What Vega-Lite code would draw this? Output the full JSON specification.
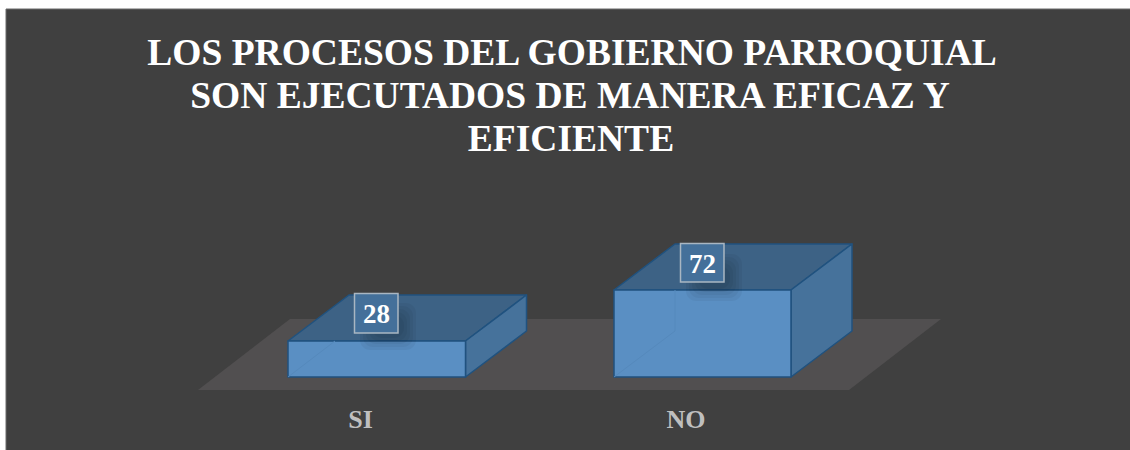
{
"$schema":"https://vega.github.io/schema/vega-lite/v6.json",
"width":1130,"height":450,"padding":0,
"autosize":{"type":"fit","contains":"padding"},
"background":"#ffffff",
"view":{"stroke":null},
"config":{"axis":{"disable":true},"legend":{"disable":true}},
"datasets":{
"panel":[{"x":6,"x2":1145,"y":368,"y2":-90}],
"piso":[{"x":198,"y":-13,"y2":-13},{"x":290,"y":58,"y2":-13},{"x":849,"y":58,"y2":-13},{"x":941,"y":58,"y2":58}],
"caras":[
{"barra":"SI","cara":"superior","x":288,"y":36,"y2":36},
{"barra":"SI","cara":"superior","x":349,"y":82,"y2":36},
{"barra":"SI","cara":"superior","x":465.5,"y":82,"y2":36},
{"barra":"SI","cara":"superior","x":526.5,"y":82,"y2":82},
{"barra":"SI","cara":"lateral","x":465.5,"y":36,"y2":0},
{"barra":"SI","cara":"lateral","x":526.5,"y":82,"y2":46},
{"barra":"SI","cara":"frontal","x":288,"y":36,"y2":0},
{"barra":"SI","cara":"frontal","x":465.5,"y":36,"y2":0},
{"barra":"NO","cara":"superior","x":614,"y":87,"y2":87},
{"barra":"NO","cara":"superior","x":675,"y":133,"y2":87},
{"barra":"NO","cara":"superior","x":791,"y":133,"y2":87},
{"barra":"NO","cara":"superior","x":852,"y":133,"y2":133},
{"barra":"NO","cara":"lateral","x":791,"y":87,"y2":0},
{"barra":"NO","cara":"lateral","x":852,"y":133,"y2":46},
{"barra":"NO","cara":"frontal","x":614,"y":87,"y2":0},
{"barra":"NO","cara":"frontal","x":791,"y":87,"y2":0}
],
"aristas":[
{"arista":"a","x":288,"y":0},{"arista":"a","x":335,"y":36},
{"arista":"c","x":614,"y":0},{"arista":"c","x":675,"y":46},
{"arista":"d","x":675,"y":46},{"arista":"d","x":675,"y":87}
],
"sombras":[
{"x":360,"x2":416,"y":74,"y2":27},{"x":363,"x2":413,"y":71,"y2":30},{"x":366,"x2":410,"y":68,"y2":33},{"x":369,"x2":407,"y":65,"y2":36},{"x":372,"x2":404,"y":62,"y2":39},
{"x":686,"x2":742,"y":123,"y2":76},{"x":689,"x2":739,"y":120,"y2":79},{"x":692,"x2":736,"y":117,"y2":82},{"x":695,"x2":733,"y":114,"y2":85},{"x":698,"x2":730,"y":111,"y2":88}
],
"etiquetas":[
{"categoria":"SI","valor":28,"x":354.5,"x2":398,"y":83.5,"y2":44,"xc":376.5,"yc":62},
{"categoria":"NO","valor":72,"x":680.5,"x2":724,"y":133.5,"y2":95,"xc":702.5,"yc":112.5}
],
"categorias":[{"categoria":"SI","x":360.5,"y":-43},{"categoria":"NO","x":686,"y":-43}],
"titulo":[
{"linea":"LOS PROCESOS DEL GOBIERNO PARROQUIAL","x":572,"y":312.5},
{"linea":"SON EJECUTADOS DE MANERA EFICAZ Y","x":570,"y":269.5},
{"linea":"EFICIENTE","x":571,"y":226.5}
]
},
"data":{"name":"panel"},
"encoding":{
"x":{"field":"x","type":"quantitative","scale":{"domain":[0,1130],"nice":false,"zero":false},"axis":null},
"y":{"field":"y","type":"quantitative","scale":{"domain":[-73,377],"nice":false,"zero":false},"axis":null}
},
"layer":[
{"mark":{"type":"rect","fill":"#404040","stroke":"#6a6a6a","strokeWidth":1,"clip":true},
 "encoding":{"x2":{"field":"x2"},"y2":{"field":"y2"}}},
{"data":{"name":"piso"},
 "mark":{"type":"area","orient":"vertical","fill":"#514f50"},
 "encoding":{"y":{"field":"y","type":"quantitative","stack":null},"y2":{"field":"y2"}}},
{"data":{"name":"caras"},
 "mark":{"type":"area","orient":"vertical","stroke":"#20527f","strokeWidth":1.5,"strokeJoin":"round"},
 "encoding":{
  "y":{"field":"y","type":"quantitative","stack":null},"y2":{"field":"y2"},
  "detail":{"field":"barra"},
  "color":{"field":"cara","type":"nominal","legend":null,"scale":{"domain":["superior","lateral","frontal"],"range":["#3d6285","#46729b","#5a8fc3"]}}
 }},
{"data":{"name":"aristas"},
 "mark":{"type":"line","stroke":"#5589bc","strokeWidth":1},
 "encoding":{"detail":{"field":"arista"},"order":{"field":"y","sort":"ascending"}}},
{"data":{"name":"sombras"},
 "mark":{"type":"rect","fill":"#000000","opacity":0.045,"cornerRadius":10},
 "encoding":{"x2":{"field":"x2"},"y2":{"field":"y2"}}},
{"data":{"name":"etiquetas"},
 "mark":{"type":"rect","fill":"#44709a","stroke":"#a9b6c2","strokeWidth":1.5},
 "encoding":{"x2":{"field":"x2"},"y2":{"field":"y2"}}},
{"data":{"name":"etiquetas"},
 "mark":{"type":"text","font":"Liberation Serif","fontWeight":"bold","fontSize":27,"fill":"#ffffff","align":"center","baseline":"middle"},
 "encoding":{"x":{"field":"xc","type":"quantitative"},"y":{"field":"yc","type":"quantitative"},"text":{"field":"valor","type":"quantitative"}}},
{"data":{"name":"categorias"},
 "mark":{"type":"text","font":"Liberation Serif","fontWeight":"bold","fontSize":26,"fill":"#bfbfbf","align":"center","baseline":"middle"},
 "encoding":{"text":{"field":"categoria","type":"nominal"}}},
{"data":{"name":"titulo"},
 "mark":{"type":"text","font":"Liberation Serif","fontWeight":"bold","fontSize":37.5,"fill":"#ffffff","align":"center","baseline":"alphabetic"},
 "encoding":{"text":{"field":"linea","type":"nominal"}}}
]
}
